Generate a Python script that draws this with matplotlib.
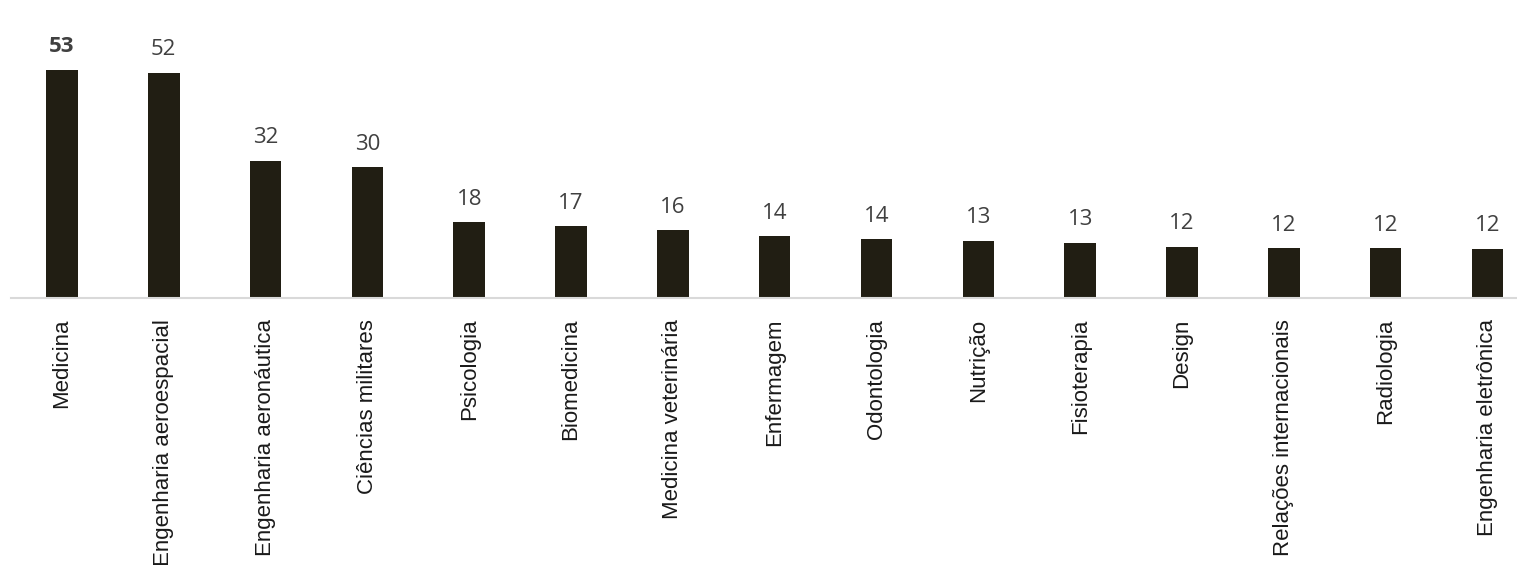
import numpy as np
import matplotlib
matplotlib.use('Agg')
import matplotlib.pyplot as plt

cursos = ['Medicina', 'Engenharia aeroespacial', 'Engenharia aeronáutica',
          'Ciências militares', 'Psicologia', 'Biomedicina',
          'Medicina veterinária', 'Enfermagem', 'Odontologia', 'Nutrição',
          'Fisioterapia', 'Design', 'Relações internacionais', 'Radiologia',
          'Engenharia eletrônica']
valores = [53, 52.3, 31.9, 30.3, 17.6, 16.6, 15.7, 14.3, 13.6, 13.2,
           12.8, 11.9, 11.5, 11.5, 11.4]
rotulos = ['53', '52', '32', '30', '18', '17', '16', '14', '14', '13',
           '13', '12', '12', '12', '12']

W, H = 1517, 565
fig = plt.figure(figsize=(W/100, H/100), dpi=100)
ax = fig.add_axes([11/W, 1 - 298/H, (W - 11)/W, 298/H])

x = np.arange(len(cursos))
ax.bar(x, valores, width=0.31, color='#211e13', zorder=2)

ax.set_xlim(-0.5, 14.29)
ax.set_ylim(0, 69.16)

for i, (v, t) in enumerate(zip(valores, rotulos)):
    ax.annotate(t, (i, v), xytext=(0, 12.7), textcoords='offset points',
                ha='center', va='baseline', fontsize=16, color='#404040',
                family='Open Sans', fontweight='bold' if i == 0 else 'normal')

ax.set_xticks(x)
ax.set_xticklabels(cursos, rotation=90, va='top', ha='center', fontsize=16,
                   family='Liberation Sans', color='#1a1a1a')
ax.tick_params(axis='x', length=0, pad=15)
ax.set_yticks([])

for s in ['top', 'right', 'left']:
    ax.spines[s].set_visible(False)
ax.spines['bottom'].set_color('#d9d9d9')
ax.spines['bottom'].set_linewidth(1.5)
ax.patch.set_alpha(0)

fig.savefig('out.png', dpi=100)
